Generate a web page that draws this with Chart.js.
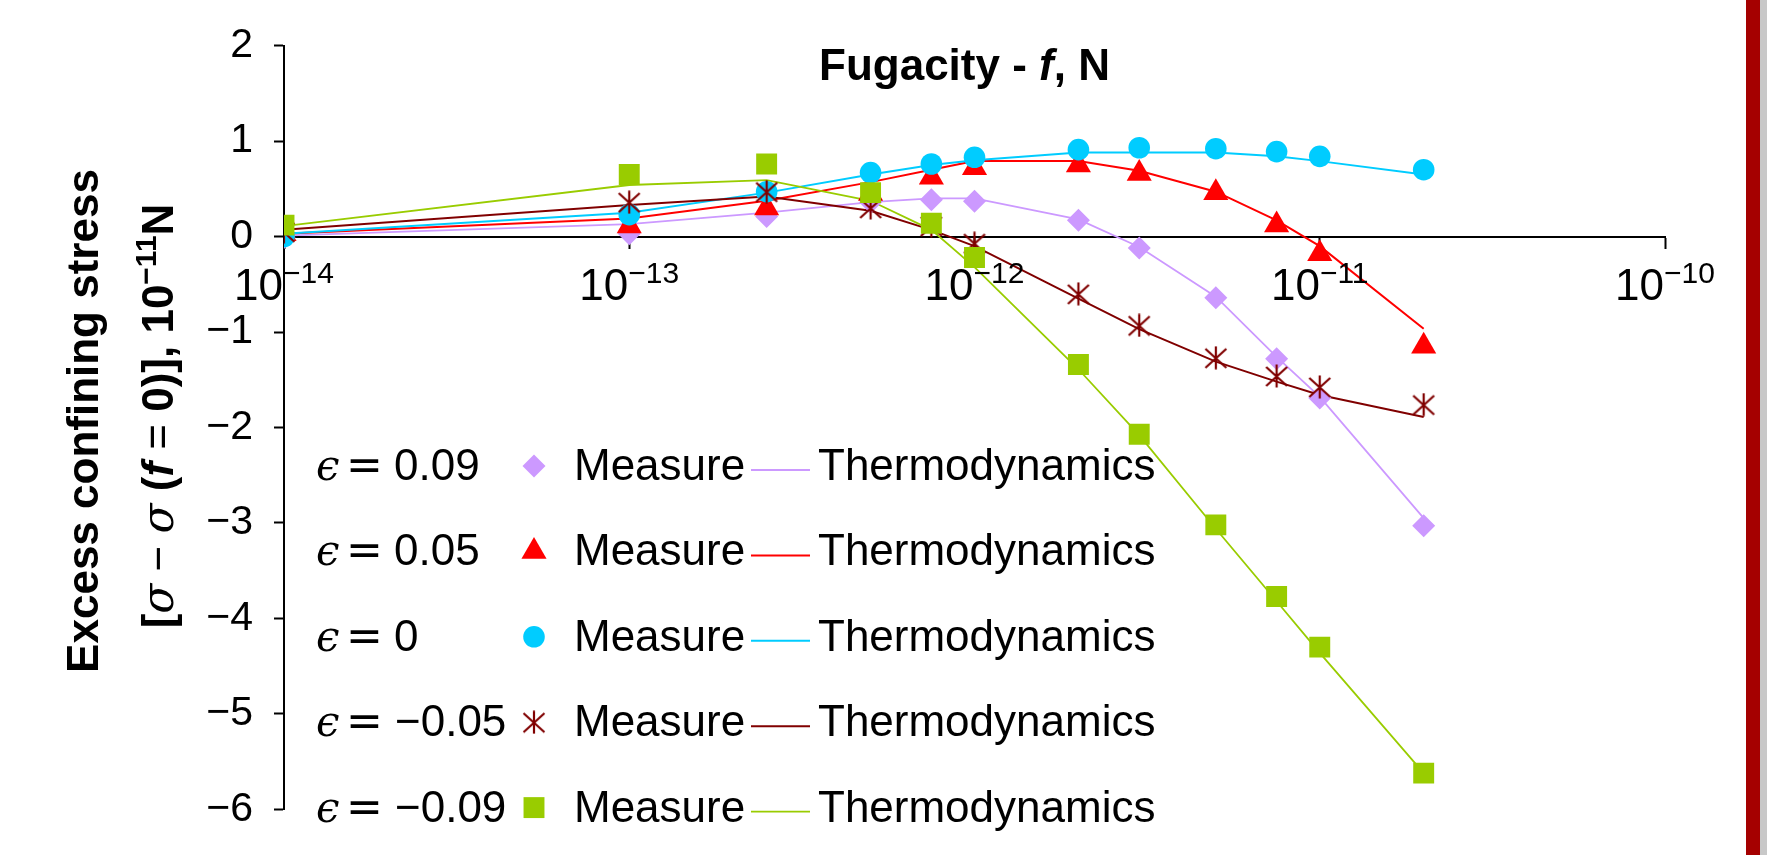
<!DOCTYPE html>
<html>
<head>
<meta charset="utf-8">
<script src="https://cdn.jsdelivr.net/npm/chart.js@4.4.1/dist/chart.umd.min.js"></script>
<style>
  html, body { margin: 0; padding: 0; background: #fff; }
  canvas { display: block; }
</style>
</head>
<body>
<canvas id="chart-1" width="1767" height="855"></canvas>
<script>
// fugacity f in N, same sampling for every strain
const fugacity = [1e-14, 1e-13, 2.5e-13, 5e-13, 7.5e-13, 1e-12, 2e-12, 3e-12, 5e-12, 7.5e-12, 1e-11, 2e-11];

// excess confining stress [sigma - sigma(f=0)], in 10^-11 N
const measureP09 = [-0.01, 0.03, 0.21, 0.36, 0.385, 0.37, 0.17, -0.12, -0.64, -1.28, -1.69, -3.03];
const thermoP09  = [0.01, 0.13, 0.25, 0.36, 0.40, 0.40, 0.18, -0.11, -0.63, -1.26, -1.68, -2.95];

const measureP05 = [0.03, 0.11, 0.30, 0.45, 0.62, 0.72, 0.75, 0.66, 0.46, 0.12, -0.18, -1.15];
const thermoP05  = [0.03, 0.19, 0.375, 0.57, 0.70, 0.79, 0.79, 0.69, 0.47, 0.17, -0.10, -0.965];

const measureZ0 = [0.0, 0.23, 0.47, 0.67, 0.76, 0.83, 0.91, 0.93, 0.92, 0.89, 0.84, 0.70];
const thermoZ0  = [0.03, 0.25, 0.46, 0.65, 0.75, 0.80, 0.88, 0.88, 0.88, 0.84, 0.79, 0.65];

const measureM05 = [0.05, 0.36, 0.47, 0.30, 0.11, -0.07, -0.60, -0.93, -1.27, -1.46, -1.575, -1.76];
const thermoM05  = [0.07, 0.33, 0.42, 0.27, 0.07, -0.10, -0.65, -0.97, -1.31, -1.52, -1.66, -1.89];

const measureM09 = [0.12, 0.65, 0.76, 0.46, 0.14, -0.22, -1.34, -2.07, -3.02, -3.77, -4.30, -5.62];
const thermoM09  = [0.11, 0.54, 0.59, 0.375, 0.07, -0.32, -1.39, -2.08, -3.06, -3.82, -4.36, -5.62];

const epsilons = [0.09, 0.05, 0, -0.05, -0.09];
const xTickValues = [1e-14, 1e-13, 1e-12, 1e-11, 1e-10];

const colors = ['#cc99ff', '#ff0000', '#00ccff', '#800000', '#99cc00'];
const lineWidths = [1.8, 2, 2, 2, 1.8];

const SANS = "'Liberation Sans', Arial, sans-serif";

function makeAsterisk(color) {
  const c = document.createElement('canvas');
  c.width = 24; c.height = 24;
  const g = c.getContext('2d');
  g.strokeStyle = color;
  g.lineWidth = 2.2;
  g.beginPath();
  g.moveTo(12, 0.5); g.lineTo(12, 23.5);
  g.moveTo(1.5, 3); g.lineTo(22.5, 22);
  g.moveTo(22.5, 3); g.lineTo(1.5, 22);
  g.stroke();
  return c;
}

const markers = [
  { style: 'rectRot', radius: 11.5 },
  { style: 'triangle', radius: 14.5 },
  { style: 'circle', radius: 10.8 },
  { style: makeAsterisk(colors[3]), radius: 12 },
  { style: 'rect', radius: 14.8 },
];

const measures = [measureP09, measureP05, measureZ0, measureM05, measureM09];
const thermos = [thermoP09, thermoP05, thermoZ0, thermoM05, thermoM09];
const toPoints = ys => fugacity.map((f, i) => ({ x: f, y: ys[i] }));

const datasets = [];
thermos.forEach((ys, i) => {
  datasets.push({
    label: 'Thermodynamics',
    data: toPoints(ys),
    borderColor: colors[i],
    borderWidth: lineWidths[i],
    pointRadius: 0,
    fill: false,
    tension: 0,
    order: 20 - i,
  });
});
measures.forEach((ys, i) => {
  datasets.push({
    label: 'Measure',
    data: toPoints(ys),
    showLine: false,
    pointStyle: markers[i].style,
    pointRadius: markers[i].radius,
    pointHoverRadius: markers[i].radius,
    pointBackgroundColor: colors[i],
    pointBorderColor: colors[i],
    pointBorderWidth: 0,
    order: 10 - i,
  });
});

// mixed-font text runs, centred on x
function drawRuns(ctx, runs, x, y) {
  let total = 0;
  runs.forEach(r => { ctx.font = r.font; r.w = ctx.measureText(r.text).width; total += r.w; });
  let cx = x - total / 2;
  runs.forEach(r => {
    ctx.font = r.font;
    ctx.fillText(r.text, cx, y + (r.dy || 0));
    cx += r.w;
  });
}

const decorations = {
  id: 'decorations',
  afterDraw(chart) {
    const { ctx, scales: { x, y }, chartArea } = chart;
    const y0 = y.getPixelForValue(0);
    ctx.save();
    ctx.fillStyle = '#000';
    ctx.textAlign = 'left';
    ctx.textBaseline = 'alphabetic';

    // decade labels 10^n under the zero line
    x.ticks.forEach(t => {
      const px = x.getPixelForValue(t.value);
      const exp = '\u2212' + Math.abs(Math.round(Math.log10(t.value)));
      drawRuns(ctx, [
        { text: '10', font: `44px ${SANS}` },
        { text: exp, font: `30px ${SANS}`, dy: -17 },
      ], px, y0 + 63);
    });

    // axis title sitting inside the plot
    drawRuns(ctx, [
      { text: 'Fugacity - ', font: `bold 44px ${SANS}` },
      { text: 'f', font: `italic bold 44px ${SANS}` },
      { text: ', N', font: `bold 44px ${SANS}` },
    ], (chartArea.left + chartArea.right) / 2 - 10, 80);

    // y title, two rotated lines
    ctx.save();
    ctx.translate(98, 421);
    ctx.rotate(-Math.PI / 2);
    drawRuns(ctx, [{ text: 'Excess confining stress', font: `bold 44px ${SANS}` }], 0, 0);
    ctx.restore();

    ctx.save();
    ctx.translate(173, 416);
    ctx.rotate(-Math.PI / 2);
    drawRuns(ctx, [
      { text: '[', font: `bold 44px ${SANS}` },
      { text: '\u03c3', font: `italic 44px 'DejaVu Serif', serif` },
      { text: ' \u2212 ', font: `44px ${SANS}` },
      { text: '\u03c3', font: `italic 44px 'DejaVu Serif', serif` },
      { text: ' (', font: `bold 44px ${SANS}` },
      { text: 'f', font: `italic bold 44px ${SANS}` },
      { text: ' = ', font: `44px ${SANS}` },
      { text: '0)], 10', font: `bold 44px ${SANS}` },
      { text: '\u221211', font: `bold 30px ${SANS}`, dy: -17 },
      { text: 'N', font: `bold 44px ${SANS}` },
    ], 0, 0);
    ctx.restore();

    // legend table
    epsilons.forEach((e, i) => {
      const base = 480 + 85.4 * i;
      const val = String(e).replace('-', '\u2212');
      ctx.fillStyle = '#000';
      ctx.font = `italic 42px 'DejaVu Serif', serif`;
      ctx.fillText('\u03f5', 316, base);
      ctx.font = `44px 'DejaVu Sans', ${SANS}`;
      ctx.fillText('=', 346, base);
      ctx.font = `44px ${SANS}`;
      ctx.fillText(val, e < 0 ? 395 : 394, base);
      ctx.fillText('Measure', 574, base);
      ctx.fillText('Thermodynamics', 818, base);

      const m = chart.data.datasets[5 + i];
      ctx.fillStyle = m.pointBackgroundColor;
      ctx.strokeStyle = m.pointBorderColor;
      Chart.helpers.drawPoint(ctx, { pointStyle: m.pointStyle, radius: m.pointRadius, rotation: 0, borderWidth: 0 }, 534, base - 14);

      const t = chart.data.datasets[i];
      ctx.strokeStyle = t.borderColor;
      ctx.lineWidth = t.borderWidth;
      ctx.beginPath();
      ctx.moveTo(751, base - 10);
      ctx.lineTo(810, base - 10);
      ctx.stroke();
    });

    // slide border on the right
    ctx.fillStyle = '#a50000';
    ctx.fillRect(1746, 0, 14, chart.height);
    ctx.fillStyle = '#c8c8c8';
    ctx.fillRect(1760, 0, 7, chart.height);
    ctx.restore();
  }
};

new Chart(document.getElementById('chart-1').getContext('2d'), {
  type: 'line',
  data: { datasets },
  options: {
    responsive: false,
    animation: false,
    devicePixelRatio: 1,
    layout: { autoPadding: false, padding: { left: 0, top: 41.7, right: 102, bottom: 16.7 } },
    plugins: { legend: { display: false }, tooltip: { enabled: false } },
    scales: {
      x: {
        type: 'logarithmic',
        position: { y: 0 },
        min: 1e-14,
        max: 1e-10,
        afterBuildTicks: s => { s.ticks = xTickValues.map(v => ({ value: v, major: true })); },
        ticks: { display: false },
        grid: { drawOnChartArea: false, drawTicks: true, tickLength: 11, tickWidth: 2, tickColor: '#000' },
        border: { display: true, color: '#000', width: 2 },
      },
      y: {
        min: -6,
        max: 2,
        ticks: {
          stepSize: 1,
          color: '#000',
          padding: 21,
          font: { size: 41, family: SANS },
          callback: v => String(v).replace('-', '\u2212'),
        },
        grid: { drawOnChartArea: false, drawTicks: true, tickLength: 10, tickWidth: 2, tickColor: '#000' },
        border: { display: true, color: '#000', width: 2 },
        afterFit: s => { s.width = 284; },
      },
    },
  },
  plugins: [decorations],
});
</script>
</body>
</html>
